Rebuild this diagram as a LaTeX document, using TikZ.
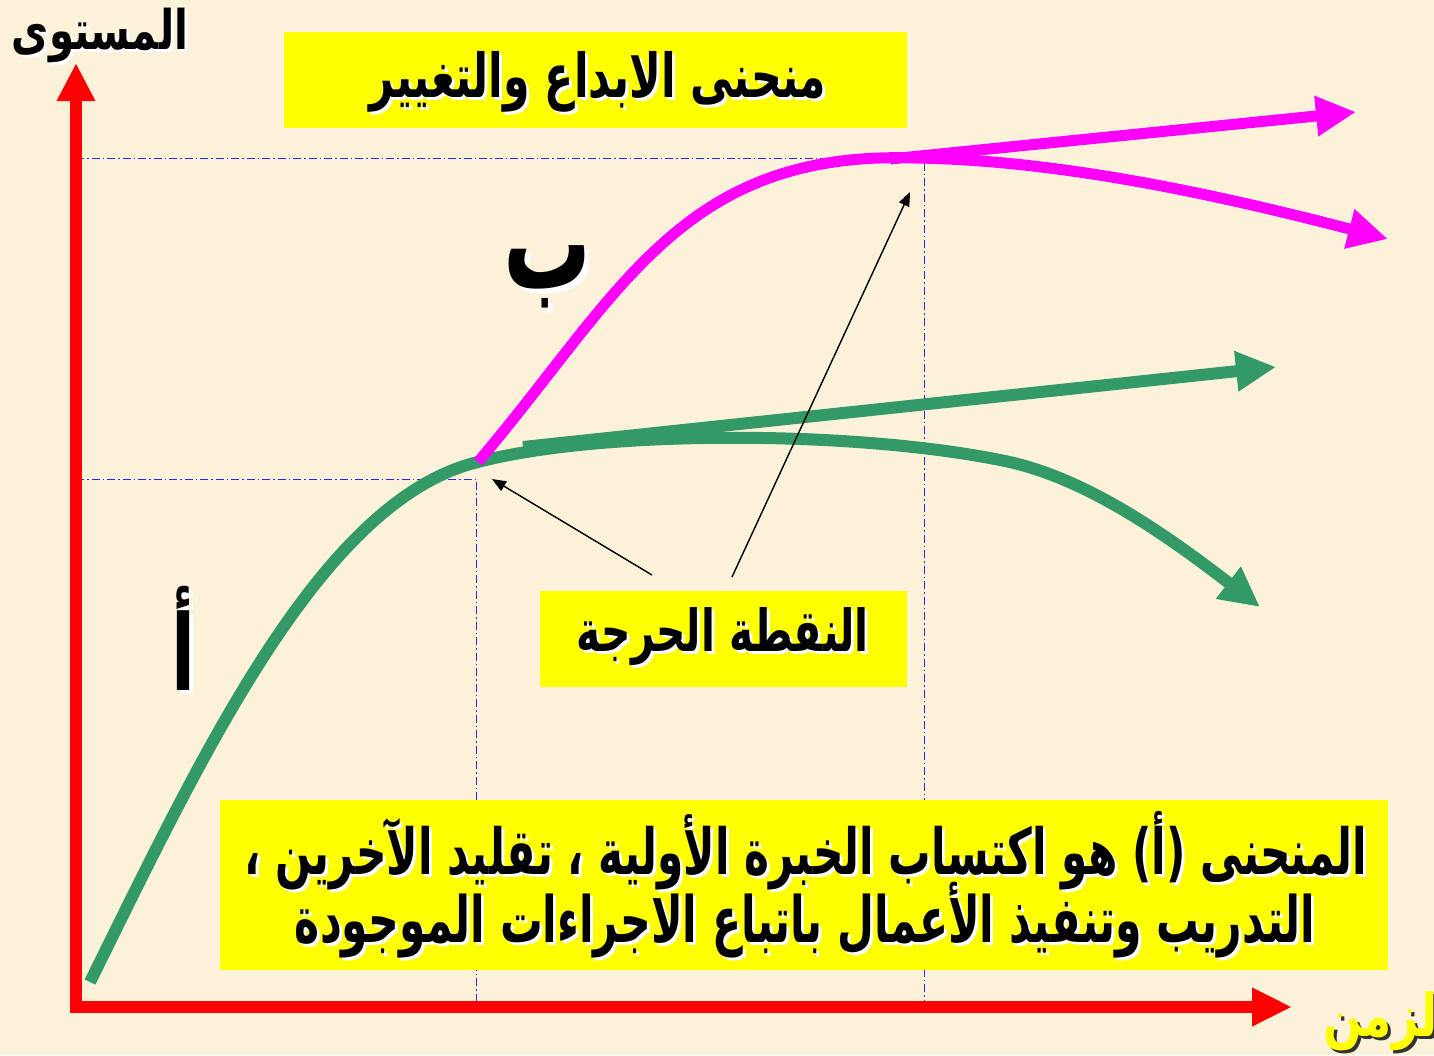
\documentclass[tikz,border=0pt]{standalone}
\usepackage{fontspec}
\usepackage{graphicx}
\usetikzlibrary{arrows.meta}
\TeXXeTstate=1
\newfontfamily\arabicfont[Script=Arabic]{DejaVu Sans}
\newcommand\artext[1]{{\arabicfont\bfseries #1}}
\newcommand\arfit[3]{\scalebox{1}[#3]{\resizebox{#1}{!}{\artext{#2}}}}
\newcommand\shadowed[9]{%
  \node[inner sep=0pt, text=#6] (#1s) at (#2+#4,#3+#4) {\arfit{#7}{#8}{#9}};
  \node[inner sep=0pt, text=#5] (#1) at (#2,#3) {\arfit{#7}{#8}{#9}};}
\definecolor{bgc}{RGB}{252,242,218}
\definecolor{grn}{RGB}{51,153,102}
\definecolor{mag}{RGB}{255,0,255}
\definecolor{ylw}{RGB}{255,255,0}
\definecolor{axred}{RGB}{255,0,0}
\definecolor{dblue}{RGB}{40,40,230}
\begin{document}
\begin{tikzpicture}[x=1pt,y=-1pt,
  bigarrow/.style={-{Triangle[length=40pt,width=38pt]}},
  thinarrow/.style={-{Triangle[length=14pt,width=11pt]}, line width=1.4pt, black},
  guide/.style={dblue, line width=0.9pt, dash pattern=on 8pt off 3pt on 1.5pt off 3pt},
  ybox/.style={fill=ylw, draw=none}]
\fill[bgc] (0,0) rectangle (1434,1055);
\useasboundingbox (0,0) rectangle (1434,1055);
% key coordinates
\coordinate (O) at (76,1007);
\coordinate (Ytip) at (76,63);
\coordinate (Xtip) at (1292,1007);
\coordinate (C1) at (478,462);
\coordinate (C2) at (915,158);
\coordinate (Gs) at (90,982);
\coordinate (Gm) at (1000,460);
\coordinate (Gend) at (1260,607);
\coordinate (Ls) at (523,447);
\coordinate (Lend) at (1276,367);
\coordinate (Mst) at (890,159);
\coordinate (Mup) at (1356,112);
\coordinate (Mdn) at (1388,239);
\coordinate (YC1) at (76,479);
\coordinate (K1) at (476,479);
\coordinate (XC1) at (476,1005);
\coordinate (YC2) at (76,158);
\coordinate (K2) at (924,158);
\coordinate (XC2) at (924,1005);
\coordinate (A1s) at (652,575);
\coordinate (A1e) at (492,479);
\coordinate (A2s) at (732,577);
\coordinate (A2e) at (910,192);
% guide lines
\draw[guide] (YC1) -- (K1) -- (XC1);
\draw[guide] (YC2) -- (K2) -- (XC2);
% green curve A
\draw[grn, line width=12pt, bigarrow] (Gs) .. controls (200,760) and (320,500) .. (C1)
  .. controls (600,430) and (850,430) .. (Gm)
  .. controls (1080,475) and (1160,530) .. (Gend);
\draw[grn, line width=12pt, bigarrow] (Ls) -- (Lend);
% magenta curve B
\draw[mag, line width=11pt] (C1) .. controls (620,295) and (680,150) .. (C2);
\draw[mag, line width=11pt, bigarrow] (Mst) -- (Mup);
\draw[mag, line width=11pt, bigarrow] (C2) .. controls (1050,160) and (1200,190) .. (Mdn);
% thin arrows
\draw[thinarrow] (A1s) -- (A1e);
\draw[thinarrow] (A2s) -- (A2e);
% boxes
\node[ybox, minimum width=623pt, minimum height=96pt, inner sep=0pt] (title) at (595.5,80) {};
\node[ybox, minimum width=367pt, minimum height=96pt, inner sep=0pt] (crit) at (723.5,639) {};
\node[ybox, minimum width=1168pt, minimum height=170pt, inner sep=0pt] (desc) at (804,885) {};
% texts
\shadowed{ttl}{598}{82}{3}{black}{white}{456pt}{\beginR منحنى الابداع والتغيير\endR}{1.42}
\shadowed{crt}{723}{637}{3}{black}{white}{292pt}{\beginR النقطة الحرجة\endR}{1.42}
\shadowed{dl1}{806}{851}{3}{black}{white}{1122pt}{\beginR المنحنى (أ) هو اكتساب الخبرة الأولية ، تقليد الآخرين ،\endR}{1.5}
\shadowed{dl2}{805}{920}{3}{black}{white}{1020pt}{\beginR التدريب وتنفيذ الأعمال باتباع الاجراءات الموجودة\endR}{1.5}
\shadowed{lvl}{100}{35}{3}{black}{white}{176pt}{\beginR المستوى\endR}{1.35}
\shadowed{tim}{1388}{1021}{3}{ylw}{black!80}{130pt}{\beginR الزمن\endR}{1.3}
\shadowed{lb}{548}{277}{5}{black}{white}{88pt}{\beginR ب\endR}{1.5}
\shadowed{la}{183}{638}{4}{black}{white}{24pt}{\beginR أ\endR}{1.5}
% axes
\draw[axred, line width=12pt, line join=miter,
  {Triangle[length=38pt,width=36pt]}-{Triangle[length=40pt,width=36pt]}] (Ytip) -- (O) -- (Xtip);
\end{tikzpicture}
\end{document}
